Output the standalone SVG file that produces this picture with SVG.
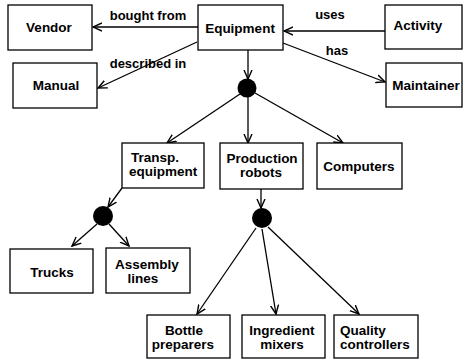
<svg xmlns="http://www.w3.org/2000/svg" width="463" height="359" viewBox="0 0 463 359">
<defs>
<style>
.box{fill:#fff;stroke:#000;stroke-width:1.3}
.t{font-family:"Liberation Sans",Arial,sans-serif;font-weight:bold;font-size:13.5px;fill:#000;text-anchor:middle}
.s{text-anchor:start}
.lbl{font-family:"Liberation Sans",Arial,sans-serif;font-weight:bold;font-size:13px;fill:#000;text-anchor:middle}
.c{fill:none;stroke:#000;stroke-width:1.3;marker-end:url(#ah)}
.dot{fill:#000}
</style>
<marker id="ah" markerUnits="userSpaceOnUse" markerWidth="10" markerHeight="10" refX="9" refY="4" orient="auto" viewBox="0 0 10 8">
<path d="M0,0 L9,4 L0,8" fill="none" stroke="#000" stroke-width="1.4"/>
</marker>
</defs>
<rect width="463" height="359" fill="#fff"/>
<g id="connectors">
<line class="c" x1="198" y1="27" x2="93" y2="27"/>
<line class="c" x1="385" y1="31" x2="284" y2="31"/>
<line class="c" x1="197" y1="42" x2="98" y2="88"/>
<line class="c" x1="283" y1="43" x2="385" y2="82"/>
<line class="c" x1="248" y1="50" x2="248" y2="79"/>
<line class="c" x1="240" y1="94" x2="167" y2="143"/>
<line class="c" x1="248" y1="97" x2="248" y2="143"/>
<line class="c" x1="255" y1="93" x2="343" y2="143"/>
<line class="c" x1="122" y1="188" x2="108" y2="207"/>
<line class="c" x1="97" y1="224" x2="72" y2="246"/>
<line class="c" x1="109" y1="224" x2="129" y2="246"/>
<line class="c" x1="261" y1="189" x2="261" y2="208"/>
<line class="c" x1="256" y1="228" x2="197" y2="314"/>
<line class="c" x1="262" y1="229" x2="276" y2="314"/>
<line class="c" x1="268" y1="227" x2="359" y2="314"/>
<text class="lbl" x="148" y="20">bought from</text>
<text class="lbl" x="330" y="19">uses</text>
<text class="lbl" x="148" y="68">described in</text>
<text class="lbl" x="337" y="55">has</text>
</g>
<g id="dot1"><circle class="dot" cx="247" cy="88" r="9.5"/></g>
<g id="dot2"><circle class="dot" cx="103" cy="216" r="10"/></g>
<g id="dot3"><circle class="dot" cx="262" cy="218" r="10"/></g>
<g id="vendor"><rect class="box" x="8" y="5" width="84" height="45"/><text class="t" x="49" y="32">Vendor</text></g>
<g id="equipment"><rect class="box" x="198" y="5" width="85" height="45"/><text class="t" x="240" y="33">Equipment</text></g>
<g id="activity"><rect class="box" x="385" y="5" width="77" height="44"/><text class="t" x="418" y="30">Activity</text></g>
<g id="manual"><rect class="box" x="13" y="63" width="84" height="45"/><text class="t" x="56" y="90">Manual</text></g>
<g id="maintainer"><rect class="box" x="386" y="63" width="76" height="44"/><text class="t" x="426" y="90">Maintainer</text></g>
<g id="transp"><rect class="box" x="122" y="143" width="82" height="45"/><text class="t s" x="131" y="162">Transp.</text><text class="t s" x="129" y="176">equipment</text></g>
<g id="production"><rect class="box" x="220" y="143" width="83" height="46"/><text class="t" x="262" y="163">Production</text><text class="t" x="261" y="177">robots</text></g>
<g id="computers"><rect class="box" x="317" y="143" width="85" height="46"/><text class="t" x="359" y="171">Computers</text></g>
<g id="trucks"><rect class="box" x="10" y="249" width="83" height="44"/><text class="t" x="52" y="277">Trucks</text></g>
<g id="assembly"><rect class="box" x="106" y="248" width="84" height="45"/><text class="t" x="147" y="269">Assembly</text><text class="t" x="143" y="283">lines</text></g>
<g id="bottle"><rect class="box" x="147" y="315" width="83" height="43"/><text class="t" x="184" y="335">Bottle</text><text class="t" x="183" y="349">preparers</text></g>
<g id="ingredient"><rect class="box" x="242" y="315" width="83" height="43"/><text class="t" x="282" y="335">Ingredient</text><text class="t" x="282" y="349">mixers</text></g>
<g id="quality"><rect class="box" x="334" y="315" width="84" height="43"/><text class="t s" x="340" y="335">Quality</text><text class="t s" x="340" y="349">controllers</text></g>
</svg>
